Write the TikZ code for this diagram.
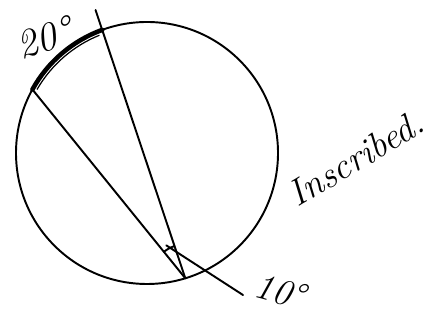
\documentclass[tikz,border=0pt]{standalone}
\usepackage{amsmath,amssymb}
\usepackage{fontspec}
\usetikzlibrary{calc}

\begin{document}
\begin{tikzpicture}[x=0.02cm,y=0.02cm,
  stroke/.style={line width=1.1pt,line cap=round},
  hand/.style={font=\fontsize{21}{23}\selectfont\itshape,inner sep=0pt}]
  \useasboundingbox (0,0) rectangle (442,320);
  % circle and points on it
  \coordinate (O) at (147,167);
  \draw [stroke] (O) circle (131);
  \coordinate (A) at ($(O)+(151:131)$);
  \coordinate (B) at ($(O)+(110:131)$);
  \coordinate (C) at ($(O)+(-73:131)$);
  \coordinate (Btop) at ($(C)!1.08!(B)$);
  % marked arc
  \draw [line width=2.6pt,line cap=round] (A) arc (151:110:131);
  \draw [line width=0.7pt] ($(O)+(150:127)$) arc (150:112:127);
  % chords to the vertex
  \draw [stroke] (A) -- (C);
  \draw [stroke] (Btop) -- (C);
  % angle mark and leader
  \draw [stroke] ($(C)+(109:34)$) arc (109:129:34);
  \coordinate (mark) at ($(C)+(120:38)$);
  \coordinate (lead) at (243,25);
  \draw [stroke] (mark) -- (lead);
  \node [hand,font=\fontsize{23}{25}\selectfont\itshape,rotate=18] (arclbl) at (44,282) {20\textdegree};
  \node [hand,rotate=-15] (anglbl) at (280,29) {10\textdegree};
  \node [hand,rotate=31] (word) at (356,162) {Inscribed.};
\end{tikzpicture}
\end{document}
